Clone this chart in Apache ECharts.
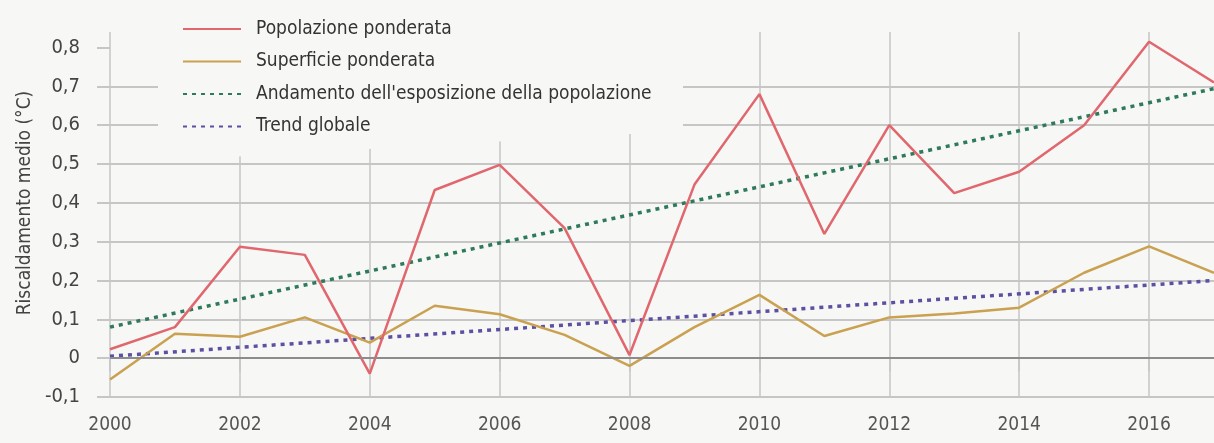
<!DOCTYPE html>
<html>
<head>
<meta charset="utf-8">
<script src="https://cdn.jsdelivr.net/npm/echarts@6/dist/echarts.min.js"></script>
<style>
  html, body { margin: 0; padding: 0; background: #f7f7f5; }
  #chart { width: 1214px; height: 443px; }
</style>
</head>
<body>
<div id="chart"></div>
<script>
// anni e valori
var anni = [2000, 2001, 2002, 2003, 2004, 2005, 2006, 2007, 2008, 2009, 2010, 2011, 2012, 2013, 2014, 2015, 2016, 2017];
var popolazionePonderata = [0.023, 0.08, 0.287, 0.266, -0.04, 0.433, 0.498, 0.335, 0.008, 0.447, 0.68, 0.32, 0.60, 0.425, 0.48, 0.60, 0.815, 0.71];
var superficiePonderata = [-0.055, 0.063, 0.055, 0.105, 0.04, 0.135, 0.113, 0.06, -0.02, 0.08, 0.163, 0.057, 0.105, 0.115, 0.13, 0.22, 0.288, 0.22];
// linee di tendenza: estremi
var anniTrend = [2000, 2017];
var andamentoEsposizione = [0.08, 0.694];
var trendGlobale = [0.005, 0.2];
// tacche
var tickAnni = [2000, 2002, 2004, 2006, 2008, 2010, 2012, 2014, 2016];
var tickValori = [-0.1, 0, 0.1, 0.2, 0.3, 0.4, 0.5, 0.6, 0.7, 0.8];

var font = "'Liberation Sans Narrow', 'DejaVu Sans Condensed', 'Roboto Condensed', sans-serif";
var grigio = '#c6c6c6';
var sfondo = '#f7f7f5';

function coppie(xs, ys) {
    return xs.map(function (x, i) { return [x, ys[i]]; });
}

var myChart = echarts.init(document.getElementById('chart'));
myChart.setOption({
    backgroundColor: sfondo,
    animation: false,
    textStyle: { fontFamily: font },
    grid: { left: 110, right: -12, top: 32, bottom: 46 },
    legend: {
        orient: 'vertical',
        left: 177,
        top: 13,
        itemWidth: 58,
        itemHeight: 14,
        itemGap: 10.5,
        z: 5,
        itemStyle: { opacity: 0 },
        textStyle: { fontFamily: font, fontSize: 19, color: '#333', lineHeight: 22, padding: [0, 0, 0, 10] },
        data: ['Popolazione ponderata', 'Superficie ponderata', "Andamento dell'esposizione della popolazione", 'Trend globale']
    },
    graphic: [
        {
            // maschera sotto la legenda
            type: 'polygon',
            z: 1,
            silent: true,
            shape: { points: [[158, 0], [683, 0], [683, 131], [158, 161]] },
            style: { fill: sfondo }
        },
        {
            type: 'text',
            z: 3,
            x: 25,
            y: 203,
            rotation: Math.PI / 2,
            style: {
                text: 'Riscaldamento medio (°C)',
                fontFamily: font,
                fontSize: 19,
                fill: '#444',
                align: 'center',
                verticalAlign: 'middle'
            }
        }
    ],
    xAxis: {
        type: 'value',
        min: 2000,
        max: 2017,
        interval: 2,
        axisLine: { show: false },
        axisTick: { show: true, length: 13, customValues: tickAnni, lineStyle: { color: grigio, width: 1.5 } },
        axisLabel: {
            customValues: tickAnni,
            margin: 19,
            fontSize: 19,
            color: '#555',
            fontFamily: font,
            formatter: function (v) { return String(v); }
        },
        splitLine: { show: true, lineStyle: { color: grigio, width: 1.5 } }
    },
    yAxis: {
        type: 'value',
        min: -0.1,
        max: 0.84,
        interval: 0.1,
        axisLine: { show: false },
        axisTick: { show: true, length: 13, customValues: tickValori, lineStyle: { color: grigio, width: 2 } },
        axisLabel: {
            customValues: tickValori,
            margin: 30,
            fontSize: 20,
            color: '#444',
            fontFamily: font,
            formatter: function (v) { return String(Math.round(v * 10) / 10).replace('.', ','); }
        },
        splitLine: { show: true, showMaxLine: false, lineStyle: { color: grigio, width: 2 } }
    },
    series: [
        {
            name: 'Popolazione ponderata',
            type: 'line',
            symbol: 'none',
            z: 4,
            color: '#e0676d',
            lineStyle: { width: 2.5, color: '#e0676d' },
            data: coppie(anni, popolazionePonderata),
            markLine: {
                silent: true,
                symbol: 'none',
                label: { show: false },
                lineStyle: { color: '#8c8c8c', width: 2, type: 'solid' },
                data: [{ yAxis: 0 }]
            }
        },
        {
            name: 'Superficie ponderata',
            type: 'line',
            symbol: 'none',
            z: 3,
            color: '#c9a150',
            lineStyle: { width: 2.5, color: '#c9a150' },
            data: coppie(anni, superficiePonderata)
        },
        {
            name: "Andamento dell'esposizione della popolazione",
            type: 'line',
            symbol: 'none',
            z: 2,
            color: '#2f7a5b',
            lineStyle: { width: 3.5, color: '#2f7a5b', type: [4, 5] },
            data: coppie(anniTrend, andamentoEsposizione)
        },
        {
            name: 'Trend globale',
            type: 'line',
            symbol: 'none',
            z: 2,
            color: '#5d4fa2',
            lineStyle: { width: 3.5, color: '#5d4fa2', type: [4, 5] },
            data: coppie(anniTrend, trendGlobale)
        }
    ]
});
</script>
</body>
</html>
